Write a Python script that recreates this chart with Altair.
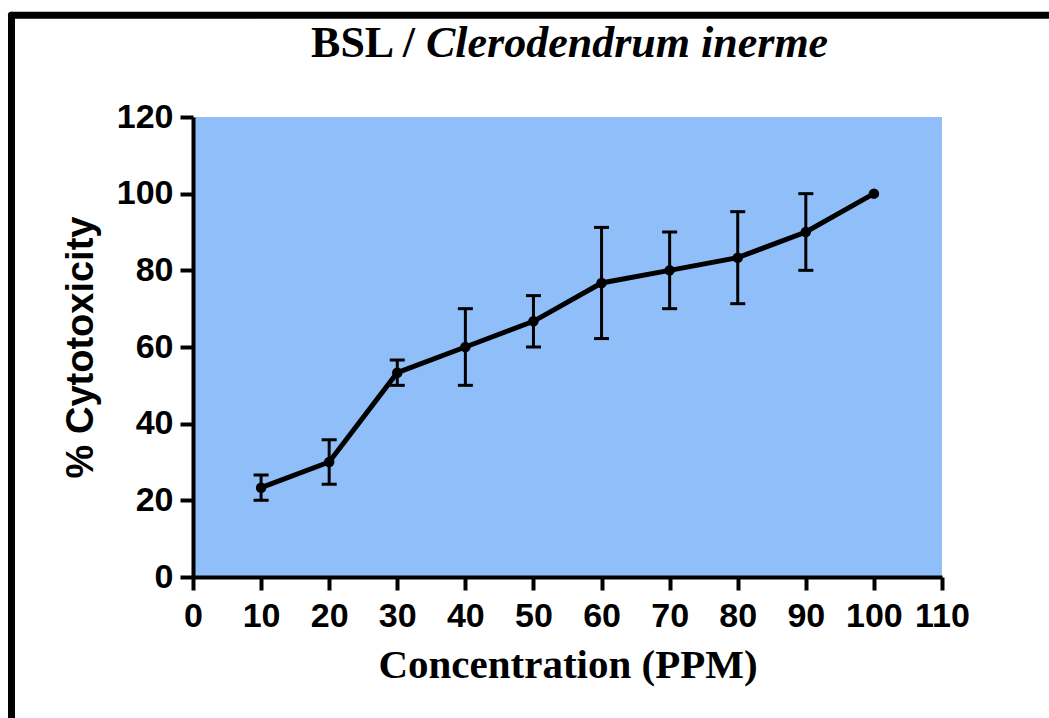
import altair as alt
import pandas as pd

conc = [10, 20, 30, 40, 50, 60, 70, 80, 90, 100]
cytotox = [23.3, 30.0, 53.3, 60.0, 66.7, 76.7, 80.0, 83.3, 90.0, 100.0]
err = [3.3, 5.8, 3.3, 10.0, 6.7, 14.5, 10.0, 12.0, 10.0, 0.0]

x_ticks = list(range(0, 111, 10))
y_ticks = list(range(0, 121, 20))

df = pd.DataFrame({"conc": conc, "mean": cytotox, "err": err})
df["lo"] = df["mean"] - df["err"]
df["hi"] = df["mean"] + df["err"]
df_err = df[df["err"] > 0]

W, H = 749, 460
SANS = "Liberation Sans"
SERIF = "Liberation Serif"

xscale = alt.Scale(domain=[0, 110], nice=False, zero=False)
yscale = alt.Scale(domain=[0, 120], nice=False)

xaxis = alt.Axis(values=x_ticks, title="Concentration (PPM)", grid=False,
                 domainColor="black", domainWidth=4, tickColor="black", tickWidth=4,
                 tickSize=13, labelFont=SANS, labelFontWeight="bold", labelFontSize=34,
                 labelColor="black", labelPadding=9, labelFlush=False, labelOverlap=False,
                 titleFont=SERIF, titleFontWeight="bold", titleFontSize=41, titleColor="black",
                 titleX=W / 2, titleY=100, titleBaseline="alphabetic", titleAnchor="middle")
yaxis = alt.Axis(values=y_ticks, title="% Cytotoxicity", grid=False,
                 domainColor="black", domainWidth=4, tickColor="black", tickWidth=4,
                 tickSize=13, labelFont=SANS, labelFontWeight="bold", labelFontSize=34,
                 labelColor="black", labelPadding=7, labelFlush=False, labelOverlap=False,
                 titleFont=SANS, titleFontWeight="bold", titleFontSize=38, titleColor="black",
                 titleX=-101, titleY=H / 2, titleBaseline="alphabetic", titleAngle=-90,
                 titleAnchor="middle")

base = alt.Chart(df)

line = base.mark_line(color="black", strokeWidth=5).encode(
    x=alt.X("conc:Q", scale=xscale, axis=xaxis),
    y=alt.Y("mean:Q", scale=yscale, axis=yaxis),
)
pts = base.mark_circle(color="black", opacity=1, size=110).encode(
    x=alt.X("conc:Q", scale=xscale), y=alt.Y("mean:Q", scale=yscale))

ebase = alt.Chart(df_err)
vrule = ebase.mark_rule(color="black", strokeWidth=3).encode(
    x=alt.X("conc:Q", scale=xscale), y=alt.Y("lo:Q", scale=yscale), y2="hi:Q")
cap_hi = ebase.mark_tick(color="black", thickness=3, size=15, orient="horizontal", opacity=1).encode(
    x=alt.X("conc:Q", scale=xscale), y=alt.Y("hi:Q", scale=yscale))
cap_lo = ebase.mark_tick(color="black", thickness=3, size=15, orient="horizontal", opacity=1).encode(
    x=alt.X("conc:Q", scale=xscale), y=alt.Y("lo:Q", scale=yscale))

# title (mixed upright / italic)
t1 = alt.Chart(pd.DataFrame({"t": ["BSL /"]})).mark_text(
    font=SERIF, fontWeight="bold", fontSize=44, align="right", baseline="alphabetic", color="black"
).encode(text="t:N", x=alt.value(222), y=alt.value(-60))
t2 = alt.Chart(pd.DataFrame({"t": ["Clerodendrum inerme"]})).mark_text(
    font=SERIF, fontWeight="bold", fontStyle="italic", fontSize=44, align="left",
    baseline="alphabetic", color="black"
).encode(text="t:N", x=alt.value(233), y=alt.value(-60))

# outer frame (left and top edges)
frame_left = alt.Chart(pd.DataFrame({"a": [0]})).mark_rule(
    color="black", strokeWidth=7, strokeCap="round").encode(
    x=alt.value(-181.5), y=alt.value(-101.7), y2=alt.value(640))
frame_top = alt.Chart(pd.DataFrame({"a": [0]})).mark_rule(
    color="black", strokeWidth=7, strokeCap="round").encode(
    x=alt.value(-181.5), x2=alt.value(900), y=alt.value(-101.7))

chart = alt.layer(vrule, cap_hi, cap_lo, line, pts, t1, t2, frame_left, frame_top).properties(
    width=W, height=H,
    autosize=alt.AutoSizeParams(type="none"),
    padding={"left": 193, "top": 117, "right": 107, "bottom": 141},
    background="white",
).configure_view(fill="#90bef9", stroke=None)

chart.save("out.html", embed_options={"renderer": "svg", "actions": False})
